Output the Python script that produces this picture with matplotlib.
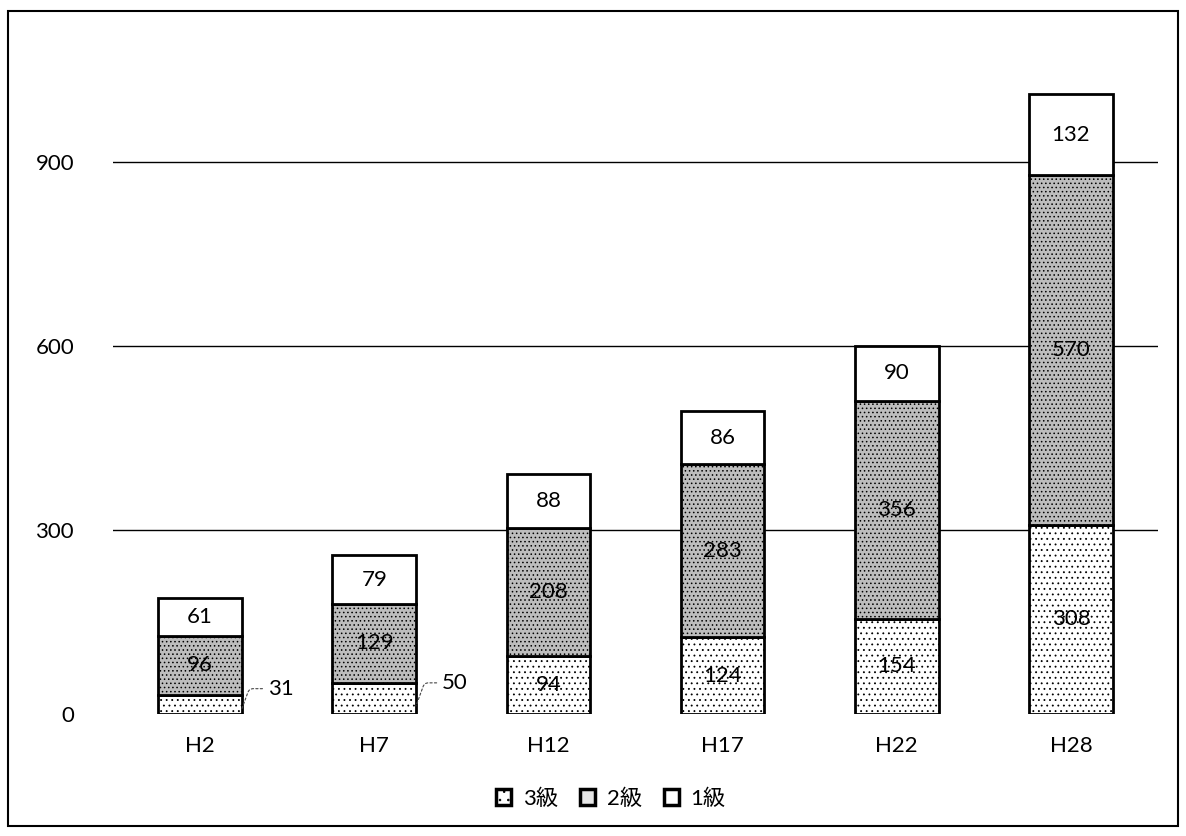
import matplotlib
matplotlib.use("Agg")
import matplotlib.pyplot as plt
from matplotlib.patches import Patch, Rectangle

plt.rcParams['font.family'] = ['Lato', 'Noto Sans CJK JP', 'DejaVu Sans']
plt.rcParams['hatch.linewidth'] = 0.6

years = ["H2", "H7", "H12", "H17", "H22", "H28"]
grade3 = [31, 50, 94, 124, 154, 308]
grade2 = [96, 129, 208, 283, 356, 570]
grade1 = [61, 79, 88, 86, 90, 132]
series_names = ["3級", "2級", "1級"]
y_ticks = [0, 300, 600, 900]

fig = plt.figure(figsize=(11.86, 8.36), dpi=100)
ax = fig.add_axes([0.0953, 0.1465, 0.8811, 0.807])

x = list(range(len(years)))
w = 0.48
edge = dict(edgecolor='black', linewidth=2.0)

b3 = ax.bar(x, grade3, w, color='white', hatch='...', **edge)
bottom2 = grade3
b2 = ax.bar(x, grade2, w, bottom=bottom2, color='#bdbdbd', hatch='....', **edge)
bottom1 = [a + b for a, b in zip(grade3, grade2)]
b1 = ax.bar(x, grade1, w, bottom=bottom1, color='white', **edge)

fs = 16
for i in x:
    ax.text(i, bottom1[i] + grade1[i] / 2, str(grade1[i]), ha='center', va='center', fontsize=fs)
    ax.text(i, bottom2[i] + grade2[i] / 2, str(grade2[i]), ha='center', va='center', fontsize=fs)
    if grade3[i] >= 80:
        ax.text(i, grade3[i] / 2, str(grade3[i]), ha='center', va='center', fontsize=fs)
    else:
        ax.annotate(str(grade3[i]), xy=(i + w / 2, grade3[i] * 0.25),
                    xytext=(i + w / 2 + 0.15, grade3[i] / 2 + 25),
                    ha='left', va='center', fontsize=fs,
                    arrowprops=dict(arrowstyle='-', linestyle=(0, (2, 2)), linewidth=0.8,
                                    color='#444444', shrinkA=2, shrinkB=0,
                                    connectionstyle='angle,angleA=0,angleB=70,rad=4'))

ax.set_xlim(-0.5, len(years) - 0.5)
ax.set_ylim(0, 1100)
ax.set_yticks(y_ticks)
ax.set_yticklabels([str(t) for t in y_ticks])
ax.set_xticks(x)
ax.set_xticklabels(years)
ax.tick_params(axis='both', length=0, labelsize=fs)
ax.tick_params(axis='y', pad=28)
ax.tick_params(axis='x', pad=16)
for s in ax.spines.values():
    s.set_visible(False)
ax.yaxis.grid(True, color='black', linewidth=1.0)
ax.set_axisbelow(True)
for line in ax.get_ygridlines()[:1]:
    line.set_visible(False)

handles = [Patch(facecolor='white', hatch='..', edgecolor='black', linewidth=2.5),
           Patch(facecolor='#e6e6e6', edgecolor='black', linewidth=2.5),
           Patch(facecolor='white', edgecolor='black', linewidth=2.5)]
fig.legend(handles, series_names, loc='center', bbox_to_anchor=(0.515, 0.045), ncol=3,
           frameon=False, fontsize=16, handlelength=0.7, handleheight=0.7,
           handletextpad=0.5, columnspacing=1.0)

fig.patches.append(Rectangle((0.007, 0.012), 0.986, 0.975, transform=fig.transFigure,
                             fill=False, edgecolor='black', linewidth=1.5))

fig.savefig("out.png", dpi=100)
